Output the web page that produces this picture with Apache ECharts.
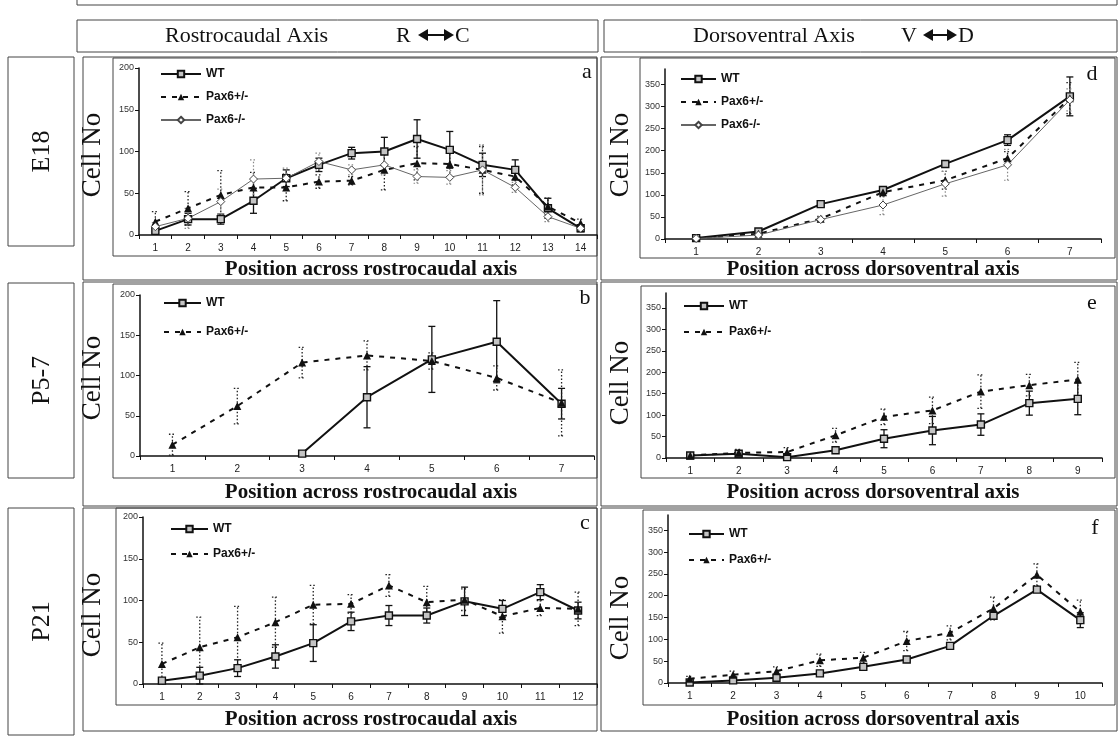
<!DOCTYPE html>
<html><head><meta charset="utf-8">
<script src="https://cdn.jsdelivr.net/npm/echarts@6/dist/echarts.min.js"></script>
<style>html,body{margin:0;padding:0;background:#fff}#c{width:1118px;height:742px}</style>
</head><body><div id="c"></div>
<script>
// ---- tick labels (positions) ----
const posA = ['1','2','3','4','5','6','7','8','9','10','11','12','13','14'];
const posB = ['1','2','3','4','5','6','7'];
const posC = ['1','2','3','4','5','6','7','8','9','10','11','12'];
const posD = ['1','2','3','4','5','6','7'];
const posE = ['1','2','3','4','5','6','7','8','9'];
const posF = ['1','2','3','4','5','6','7','8','9','10'];

// ---- a: E18 rostrocaudal ----
const a_WT      = [5,19,19,41,68,84,98,100,115,102,84,78,32,8];
const a_WT_err  = [3,7,6,15,10,8,7,17,23,22,14,12,12,4];
const a_Het     = [16,32,48,57,57,64,65,78,86,85,78,70,34,14];
const a_Het_err = [12,20,29,18,16,8,5,24,20,15,28,10,10,5];
const a_Hom     = [10,20,40,67,68,88,78,84,70,69,78,57,22,8];
const a_Hom_err = [5,12,15,23,12,10,6,12,8,8,30,6,6,4];

// ---- b: P5-7 rostrocaudal ----
const b_WT      = ['-','-',3,73,120,142,65];
const b_WT_err  = [0,0,2,38,41,51,19];
const b_Het     = [14,62,116,125,118,97,66];
const b_Het_err = [13,22,19,18,10,15,41];

// ---- c: P21 rostrocaudal ----
const c_WT      = [4,10,19,33,49,75,82,82,99,90,110,88];
const c_WT_err  = [2,10,10,14,22,11,12,9,17,10,9,10];
const c_Het     = [24,44,56,74,95,96,118,98,101,81,91,90];
const c_Het_err = [25,36,37,30,23,11,13,19,13,20,9,20];

// ---- d: E18 dorsoventral ----
const d_WT      = [2,17,79,111,170,224,323];
const d_WT_err  = [1,4,4,6,5,12,44];
const d_Het     = [2,12,46,106,133,183,319];
const d_Het_err = [1,4,5,10,20,15,35];
const d_Hom     = [1,9,44,77,125,168,315];
const d_Hom_err = [1,3,5,22,28,35,25];

// ---- e: P5-7 dorsoventral ----
const e_WT      = [6,10,2,18,45,64,78,128,138];
const e_WT_err  = [2,3,2,6,21,33,25,28,37];
const e_Het     = [6,12,14,53,96,111,155,170,183];
const e_Het_err = [3,8,10,16,18,31,39,25,40];

// ---- f: P21 dorsoventral ----
const f_WT      = [1,6,12,22,37,54,85,154,214,144];
const f_WT_err  = [1,2,3,3,4,4,4,6,6,17];
const f_Het     = [10,19,27,52,58,96,115,171,248,163];
const f_Het_err = [5,8,10,14,12,22,16,26,25,27];

const SERIF = '"Liberation Serif","DejaVu Serif",serif';
const SANS = '"Liberation Sans",Arial,sans-serif';

const STY = {
  'WT': {line:{color:'#111',width:2,type:'solid'}, symbol:'rect', size:7,
         item:{color:'#c4c4c4',borderColor:'#111',borderWidth:1.4}, err:{stroke:'#111',dash:null,w:1.3}},
  'Pax6+/-': {line:{color:'#111',width:2,type:[5,6]}, symbol:'triangle', size:8,
         item:{color:'#111'}, err:{stroke:'#222',dash:[1.5,2],w:1.3}},
  'Pax6-/-': {line:{color:'#666',width:1,type:'solid'}, symbol:'diamond', size:8,
         item:{color:'#fff',borderColor:'#444',borderWidth:1}, err:{stroke:'#888',dash:[1.5,2],w:1.2}}
};

const panels = [
  {grid:{left:139,top:68,width:458,height:167}, cats:posA, ymax:200,
   legend:{left:160,top:68,gap:11,w:40}, s:[['WT',a_WT,a_WT_err],['Pax6+/-',a_Het,a_Het_err],['Pax6-/-',a_Hom,a_Hom_err]]},
  {grid:{left:140,top:295,width:454,height:161}, cats:posB, ymax:200,
   legend:{left:163,top:297,gap:17,w:37}, s:[['WT',b_WT,b_WT_err],['Pax6+/-',b_Het,b_Het_err]]},
  {grid:{left:143,top:517,width:454,height:167}, cats:posC, ymax:200,
   legend:{left:170,top:523,gap:13,w:37}, s:[['WT',c_WT,c_WT_err],['Pax6+/-',c_Het,c_Het_err]]},
  {grid:{left:665,top:69,width:436,height:170}, cats:posD, ymax:385,
   legend:{left:680,top:73,gap:11,w:35}, s:[['WT',d_WT,d_WT_err],['Pax6+/-',d_Het,d_Het_err],['Pax6-/-',d_Hom,d_Hom_err]]},
  {grid:{left:666,top:293,width:436,height:165}, cats:posE, ymax:385,
   legend:{left:683,top:300,gap:14,w:40}, s:[['WT',e_WT,e_WT_err],['Pax6+/-',e_Het,e_Het_err]]},
  {grid:{left:668,top:515,width:434,height:168}, cats:posF, ymax:385,
   legend:{left:688,top:528,gap:14,w:35}, s:[['WT',f_WT,f_WT_err],['Pax6+/-',f_Het,f_Het_err]]}
];

const grids=[], xAxes=[], yAxes=[], series=[], legends=[];
panels.forEach((p,i)=>{
  grids.push(Object.assign({outerBoundsMode:'none',containLabel:false}, p.grid));
  xAxes.push({type:'category', gridIndex:i, data:p.cats, boundaryGap:true,
    axisLine:{lineStyle:{color:'#111',width:1.5}},
    axisTick:{show:true,interval:0,length:4,lineStyle:{color:'#111'}},
    axisLabel:{fontSize:10,color:'#222',fontFamily:SANS,margin:8}});
  yAxes.push({type:'value', gridIndex:i, min:0, max:p.ymax, interval:50,
    splitLine:{show:false},
    axisLine:{show:true,lineStyle:{color:'#111',width:1.5}},
    axisTick:{show:true,length:4,lineStyle:{color:'#111'}},
    axisLabel:{fontSize:9,color:'#333',fontFamily:SANS,margin:5,showMaxLabel:p.ymax===200,
      formatter:v=> (v%50===0? String(v):'')}});
  const names=[];
  p.s.forEach(([name,vals,errs])=>{
    names.push(name);
    const st=STY[name];
    const ed=[];
    vals.forEach((v,k)=>{ if(v!=='-') ed.push([k, v-errs[k], v+errs[k]]); });
    series.push({type:'custom', name:name+'_err', xAxisIndex:i, yAxisIndex:i, z:2, silent:true,
      encode:{x:0,y:[1,2]}, data:ed,
      renderItem:(params,api)=>{
        const x=api.value(0), lo=Math.max(0,api.value(1)), hi=api.value(2);
        const p1=api.coord([x,lo]), p2=api.coord([x,hi]);
        const c=3.5, sty={stroke:st.err.stroke,lineWidth:st.err.w,lineDash:st.err.dash};
        return {type:'group',children:[
          {type:'line',shape:{x1:p1[0],y1:p1[1],x2:p2[0],y2:p2[1]},style:sty},
          {type:'line',shape:{x1:p1[0]-c,y1:p1[1],x2:p1[0]+c,y2:p1[1]},style:sty},
          {type:'line',shape:{x1:p2[0]-c,y1:p2[1],x2:p2[0]+c,y2:p2[1]},style:sty}]};
      }});
    series.push({type:'line', name:name, xAxisIndex:i, yAxisIndex:i, z:3, data:vals,
      symbol:st.symbol, symbolSize:st.size, showSymbol:true, clip:false,
      lineStyle:st.line, itemStyle:st.item, connectNulls:false});
  });
  legends.push({data:names, orient:'vertical', left:p.legend.left, top:p.legend.top,
    itemGap:p.legend.gap, itemWidth:p.legend.w, itemHeight:8, selectedMode:false, padding:0,
    textStyle:{fontSize:12,fontWeight:'bold',fontFamily:SANS,color:'#111'}});
});

// ---- frame / label layout ----
const rect=(x,y,w,h,stroke)=>({type:'rect',shape:{x,y,width:w,height:h},silent:true,
  style:{fill:'none',stroke:stroke||'#444',lineWidth:1}});
const txt=(x,y,t,font,rot,align)=>({type:'text',x,y,rotation:rot||0,silent:true,
  style:{text:t,font:font,fill:'#111',align:align||'center',verticalAlign:'middle',
  textAlign:align||'center',textVerticalAlign:'middle'}});
const dblArrow=(x0,x1,y)=>({type:'group',silent:true,children:[
  {type:'line',shape:{x1:x0+6,y1:y,x2:x1-6,y2:y},style:{stroke:'#111',lineWidth:2}},
  {type:'polygon',shape:{points:[[x0,y],[x0+10,y-6],[x0+10,y+6]]},style:{fill:'#111'}},
  {type:'polygon',shape:{points:[[x1,y],[x1-10,y-6],[x1-10,y+6]]},style:{fill:'#111'}}]});

const rowLabels=['E18','P5-7','P21'];
const colHeads=['Rostrocaudal Axis','Dorsoventral Axis'];
const colEnds=[['R','C'],['V','D']];
const xTitles=['Position across rostrocaudal axis','Position across dorsoventral axis'];
const yTitle='Cell No';
const letters=['a','b','c','d','e','f'];

const g=[];
g.push(rect(77,-10,1040,15));
g.push(rect(77,20,521,32)); g.push(rect(604,20,513,32));
const headX=[[165,396,418,455],[693,901,923,958]];
for(let c=0;c<2;c++){
  const h=headX[c];
  g.push(txt(h[0],36,colHeads[c],'22px '+SERIF,0,'left'));
  g.push(txt(h[1],36,colEnds[c][0],'22px '+SERIF,0,'left'));
  g.push(dblArrow(h[2],h[3]-1,35));
  g.push(txt(h[3],36,colEnds[c][1],'22px '+SERIF,0,'left'));
}
const rowsY=[[57,223],[282,224],[508,223]];
const rowBox=[[57,189],[283,195],[508,227]];
const innerL=[[113,58,484,198],[113,284,484,194],[116,508,481,197]];
const innerR=[[640,58,475,200],[641,286,474,192],[643,510,472,195]];
const cellY=[[155,378,615],[155,383,618]];
const titleY=[270,493,720];
for(let r=0;r<3;r++){
  g.push(rect(8,rowBox[r][0],66,rowBox[r][1]));
  g.push(txt(42,rowBox[r][0]+rowBox[r][1]/2,rowLabels[r],'26px '+SERIF,Math.PI/2));
  g.push(rect(83,rowsY[r][0],514,rowsY[r][1]));
  g.push(rect(601,rowsY[r][0],516,rowsY[r][1]));
  g.push(rect(...innerL[r])); g.push(rect(...innerR[r]));
  g.push(txt(93,cellY[0][r],yTitle,'27px '+SERIF,Math.PI/2));
  g.push(txt(621,cellY[1][r],yTitle,'27px '+SERIF,Math.PI/2));
  g.push(txt(371,titleY[r],xTitles[0],'bold 21px '+SERIF));
  g.push(txt(873,titleY[r],xTitles[1],'bold 21px '+SERIF));
}
const letterPos=[[587,72],[585,298],[585,523],[1092,74],[1092,303],[1095,528]];
letters.forEach((l,i)=>g.push(txt(letterPos[i][0],letterPos[i][1],l,'22px '+SERIF)));

const chart=echarts.init(document.getElementById('c'),null,{renderer:'canvas'});
chart.setOption({animation:false, backgroundColor:'#fff',
  grid:grids, xAxis:xAxes, yAxis:yAxes, series:series, legend:legends, graphic:{elements:g}});
</script></body></html>
